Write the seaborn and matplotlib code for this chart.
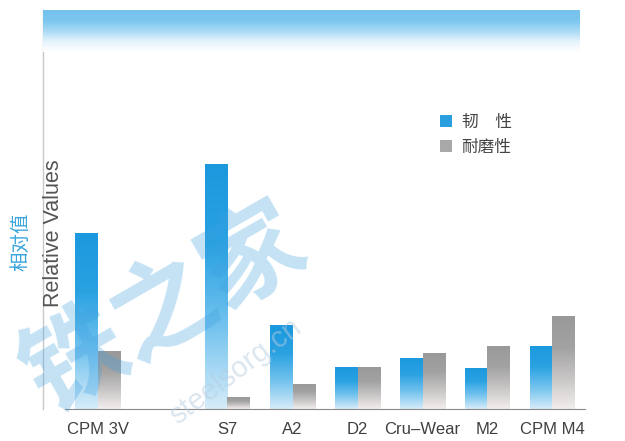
import numpy as np
import pandas as pd
import matplotlib
matplotlib.use("Agg")
import matplotlib.pyplot as plt
import matplotlib as mpl
import seaborn as sns
from matplotlib.patches import Patch

# ==============================
# Data
# ==============================
steels = ["CPM 3V", "S7", "A2", "D2", "Cru\u2013Wear", "M2", "CPM M4"]
# empty slot between CPM 3V and S7 in the original layout
slot_order = ["CPM 3V", " ", "S7", "A2", "D2", "Cru\u2013Wear", "M2", "CPM M4"]
toughness = [4.4, 6.15, 2.1, 1.05, 1.28, 1.03, 1.58]
wear_resistance = [1.45, 0.3, 0.63, 1.05, 1.4, 1.58, 2.33]
series_names = ["韧\u3000性", "耐磨性"]

df = pd.DataFrame({
    "steel": steels * 2,
    "value": toughness + wear_resistance,
    "prop": [series_names[0]] * len(steels) + [series_names[1]] * len(steels),
})

# ==============================
# Styling
# ==============================
sns.set_style("white")
plt.rcParams["font.family"] = ["Liberation Sans", "Noto Sans CJK SC", "DejaVu Sans"]

blue_cmap = mpl.colors.LinearSegmentedColormap.from_list(
    "bar_blue", ["#d6ecf9", "#74c3ee", "#2aa2e2", "#1b98de"])
gray_cmap = mpl.colors.LinearSegmentedColormap.from_list(
    "bar_gray", ["#f3eeee", "#c8c5c5", "#a2a2a2", "#999999"])

fig = plt.figure(figsize=(6.25, 4.41), dpi=100)
ax = fig.add_axes([43 / 625, 1 - 409 / 441, 542 / 625, 399 / 441])

sns.barplot(data=df, x="steel", y="value", hue="prop", order=slot_order,
            hue_order=series_names, width=0.7, palette=["#1f9be0", "#a0a0a0"],
            legend=False, ax=ax)

# gradient fill for the bars
grad = np.linspace(1, 0, 256).reshape(-1, 1)
for container, cmap in zip(ax.containers, [blue_cmap, gray_cmap]):
    for bar in container:
        h = bar.get_height()
        if not np.isfinite(h) or h <= 0:
            continue
        x0 = bar.get_x()
        w = bar.get_width()
        im = ax.imshow(grad, cmap=cmap, vmin=0, vmax=1, aspect="auto",
                       extent=[x0, x0 + w, 0, h], zorder=2)
        im.set_clip_path(bar)
        bar.set_facecolor("none")
        bar.set_edgecolor("none")

ax.set_xlim(7.5 - 542 / 65, 7.5)
ax.set_ylim(0, 10)
ax.set_xlabel("")
ax.set_ylabel("")
ax.set_yticks([])

for side in ["top", "right"]:
    ax.spines[side].set_visible(False)
ax.spines["left"].set_color("#c8c8c8")
ax.spines["left"].set_linewidth(1.0)
ax.spines["bottom"].set_color("#8a8a8a")
ax.spines["bottom"].set_linewidth(0.8)
ax.spines["bottom"].set_bounds(-0.5, 7.5)

ax.set_xticks(range(len(slot_order)))
ax.set_xticklabels(slot_order, fontsize=12, color="#404040")
ax.tick_params(axis="x", which="major", length=0, pad=9)
ax.set_xticks([0.5, 2.5, 3.5, 4.5, 5.5, 6.5], minor=True)
ax.tick_params(axis="x", which="minor", length=3, color="#8a8a8a", direction="out")

# axis titles
ax.text(0.02, 0.44, "Relative Values", transform=ax.transAxes, rotation=90,
        ha="center", va="center", fontsize=15.5, color="#555555")
fig.text(21 / 625, 1 - 242 / 441, "相对值", rotation=90, ha="center", va="center",
         fontsize=14, color="#3aa6dc", family=["Noto Sans CJK SC"])

# legend
handles = [Patch(facecolor="#2a9fe0", edgecolor="none"),
           Patch(facecolor="#a8a8a8", edgecolor="none")]
leg = ax.legend(handles, series_names, loc="upper left",
                bbox_to_anchor=((440 - 43) / 542, (409 - 114) / 399),
                frameon=False, handlelength=0.7, handleheight=0.7,
                handletextpad=0.6, labelspacing=0.45, borderpad=0,
                borderaxespad=0, prop={"family": "Noto Sans CJK SC", "size": 12})
for t in leg.get_texts():
    t.set_color("#444444")

# blue band across the top of the chart
band_ax = fig.add_axes([43 / 625, 1 - 52 / 441, 537 / 625, 42 / 441])
band_cmap = mpl.colors.LinearSegmentedColormap.from_list(
    "band", ["#ffffff", "#e6f3fc", "#a9daf5", "#7cc6ef", "#74c2ee"])
band_ax.imshow(np.linspace(1, 0, 128).reshape(-1, 1), cmap=band_cmap,
               aspect="auto", extent=[0, 1, 0, 1])
band_ax.set_axis_off()

# site watermark
fig.text(165 / 625, 1 - 310 / 441, "铁之家", rotation=30, ha="center", va="center",
         fontsize=74, fontweight="bold", color="#3d9fe0", alpha=0.3,
         family=["Noto Sans CJK SC"], zorder=10)
fig.text(236 / 625, 1 - 372 / 441, "steelsorg.cn", rotation=37, ha="center",
         va="center", fontsize=21, color="#b8cde0", alpha=0.5, zorder=10)

fig.savefig("out.png", dpi=100)
